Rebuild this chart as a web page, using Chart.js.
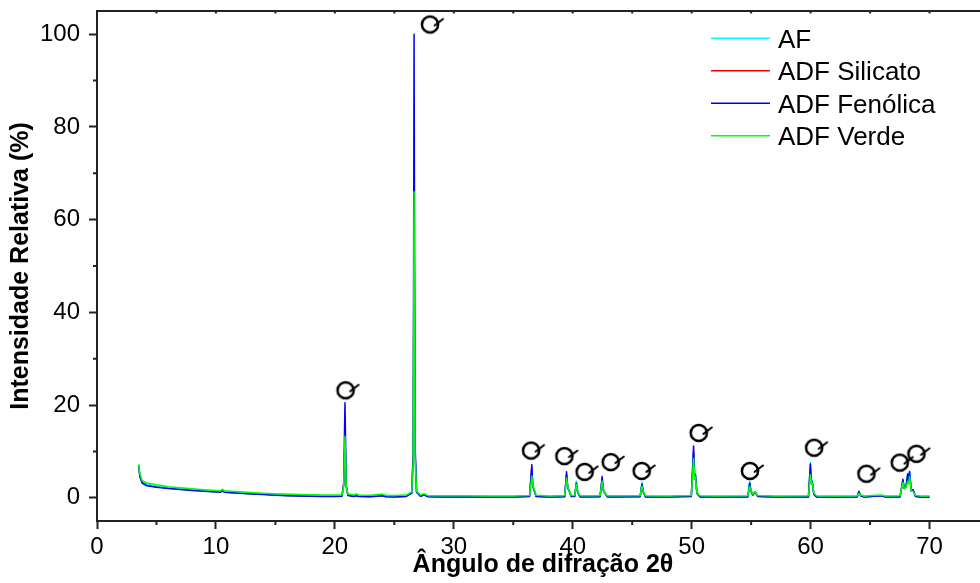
<!DOCTYPE html>
<html>
<head>
<meta charset="utf-8">
<script src="https://cdn.jsdelivr.net/npm/chart.js@4.4.1/dist/chart.umd.min.js"></script>
<style>
html, body { margin: 0; padding: 0; overflow: hidden; background: #ffffff; }
#wrap { position: relative; width: 1000px; height: 583px; }
</style>
</head>
<body>
<div id="wrap"><canvas id="c"></canvas></div>
<script>
// ---------- data ----------
const seriesNames = ['AF', 'ADF Silicato', 'ADF Fenólica', 'ADF Verde'];

const angles = [
  3.5, 3.6, 3.8, 4.2, 5, 6, 7, 8, 9, 10,
  10.4, 10.55, 10.7, 11, 12, 13, 14, 15, 16, 17,
  18, 19, 20, 20.6, 20.74, 20.85, 20.96, 21.1, 21.6, 21.8,
  22, 23, 24, 24.3, 25, 26, 26.46, 26.59, 26.66, 26.74,
  26.87, 27.2, 27.5, 27.8, 29, 31, 33, 35, 36.37, 36.56,
  36.64, 36.74, 36.92, 38, 39.32, 39.48, 39.58, 39.7, 39.87, 40.17,
  40.3, 40.42, 40.62, 42.3, 42.47, 42.58, 42.72, 42.92, 45.67, 45.82,
  45.94, 46.12, 48, 49.97, 50.16, 50.26, 50.32, 50.44, 50.7, 52,
  54.72, 54.88, 54.98, 55.14, 55.35, 55.55, 57, 59.82, 59.98, 60.08,
  60.14, 60.27, 60.5, 62, 63.92, 64.06, 64.22, 64.5, 65.9, 66.3,
  67.52, 67.76, 67.88, 68.02, 68.16, 68.24, 68.32, 68.47, 68.62, 68.82,
  69.3, 70
];

const afValues = [
  7.1, 4.9, 3.5, 2.9, 2.6, 2.2, 2.0, 1.8, 1.6, 1.45,
  1.4, 1.7, 1.35, 1.3, 1.15, 1.0, 0.85, 0.7, 0.6, 0.55,
  0.5, 0.45, 0.45, 0.5, 2.8, 12.5, 2.3, 0.6, 0.5, 0.6,
  0.45, 0.4, 0.6, 0.4, 0.35, 0.45, 1.1, 9, 64, 10,
  1.3, 0.45, 0.7, 0.35, 0.3, 0.3, 0.28, 0.28, 0.4, 6.0,
  2.5, 1.9, 0.4, 0.28, 0.35, 4.6, 2.2, 1.5, 0.4, 0.4,
  3.6, 1.3, 0.3, 0.35, 3.8, 1.6, 0.9, 0.3, 0.35, 3.4,
  1.3, 0.3, 0.28, 0.4, 9.5, 4.0, 4.8, 1.0, 0.3, 0.28,
  0.3, 3.6, 1.5, 0.7, 1.2, 0.4, 0.28, 0.3, 7.6, 3.2,
  3.6, 0.9, 0.3, 0.25, 0.3, 1.3, 0.5, 0.28, 0.5, 0.28,
  0.3, 3.8, 2.0, 2.3, 4.8, 3.4, 5.8, 1.5, 1.6, 0.4,
  0.25, 0.25
];

const silicatoValues = [
  7.0, 4.7, 3.3, 2.7, 2.4, 2.1, 1.9, 1.7, 1.5, 1.35,
  1.3, 1.6, 1.25, 1.2, 1.05, 0.9, 0.75, 0.6, 0.5, 0.45,
  0.4, 0.35, 0.35, 0.4, 2.9, 12.0, 2.4, 0.55, 0.4, 0.5,
  0.35, 0.3, 0.5, 0.3, 0.25, 0.35, 1.0, 9, 60, 10,
  1.2, 0.4, 0.65, 0.3, 0.25, 0.2, 0.2, 0.2, 0.35, 6.5,
  2.5, 1.8, 0.35, 0.2, 0.3, 5.0, 2.2, 1.5, 0.35, 0.35,
  3.0, 1.2, 0.25, 0.3, 4.0, 1.6, 0.9, 0.25, 0.3, 2.8,
  1.2, 0.25, 0.2, 0.35, 10.0, 4.0, 4.8, 1.0, 0.25, 0.2,
  0.25, 3.0, 1.5, 0.6, 1.2, 0.35, 0.2, 0.25, 6.5, 3.0,
  3.4, 0.8, 0.25, 0.15, 0.25, 1.2, 0.45, 0.2, 0.45, 0.2,
  0.25, 3.6, 2.0, 2.3, 4.5, 3.3, 5.0, 1.5, 1.6, 0.35,
  0.15, 0.15
];

const fenolicaValues = [
  7.0, 4.6, 3.2, 2.6, 2.3, 2.0, 1.8, 1.6, 1.4, 1.25,
  1.2, 1.5, 1.2, 1.15, 1.0, 0.85, 0.7, 0.55, 0.45, 0.4,
  0.35, 0.3, 0.3, 0.35, 3.0, 20.5, 2.5, 0.5, 0.3, 0.45,
  0.3, 0.25, 0.45, 0.25, 0.2, 0.3, 1.0, 10, 100, 12,
  1.2, 0.35, 0.6, 0.25, 0.2, 0.15, 0.15, 0.15, 0.3, 7.2,
  2.5, 1.8, 0.3, 0.15, 0.25, 5.6, 2.2, 1.5, 0.3, 0.3,
  3.2, 1.2, 0.2, 0.25, 4.6, 1.6, 0.9, 0.2, 0.25, 3.0,
  1.2, 0.2, 0.15, 0.3, 11.2, 4.0, 5.0, 1.0, 0.2, 0.15,
  0.2, 3.2, 1.5, 0.6, 1.3, 0.3, 0.15, 0.2, 7.3, 3.0,
  3.5, 0.8, 0.2, 0.1, 0.2, 1.4, 0.4, 0.15, 0.45, 0.15,
  0.2, 4.0, 2.0, 2.3, 5.2, 3.5, 5.6, 1.5, 1.8, 0.3,
  0.1, 0.1
];

const verdeValues = [
  7.2, 5.2, 3.7, 3.2, 2.8, 2.4, 2.15, 1.95, 1.75, 1.6,
  1.55, 1.85, 1.5, 1.45, 1.3, 1.15, 1.0, 0.9, 0.8, 0.72,
  0.68, 0.62, 0.6, 0.65, 2.5, 13.3, 2.2, 0.8, 0.65, 0.85,
  0.6, 0.55, 0.8, 0.55, 0.5, 0.6, 1.3, 8, 66, 9,
  1.4, 0.6, 0.9, 0.5, 0.45, 0.42, 0.4, 0.4, 0.5, 4.7,
  2.6, 2.0, 0.55, 0.4, 0.5, 4.3, 2.3, 1.6, 0.5, 0.5,
  2.9, 1.3, 0.45, 0.5, 3.6, 1.7, 1.0, 0.45, 0.5, 2.5,
  1.3, 0.45, 0.4, 0.5, 8.5, 4.0, 4.5, 1.1, 0.45, 0.4,
  0.45, 2.5, 1.6, 0.8, 1.3, 0.5, 0.4, 0.45, 5.0, 3.0,
  3.3, 1.0, 0.45, 0.38, 0.45, 1.0, 0.6, 0.4, 0.6, 0.4,
  0.45, 3.3, 2.0, 2.2, 3.5, 3.0, 4.6, 1.5, 1.4, 0.5,
  0.38, 0.38
];

// quartz peak markers (position of the symbol)
const markerAngles  = [20.9, 28.0, 36.5, 39.3, 41.0, 43.2, 45.8, 50.6, 54.9, 60.3, 64.7, 67.5, 68.9];
const markerHeights = [23.2, 102.1, 10.2, 9.0, 5.6, 7.7, 5.8, 14.0, 5.8, 10.8, 5.2, 7.6, 9.5];

// tick labels
const xTickValues  = [0, 10, 20, 30, 40, 50, 60, 70];
const xMinorValues = [5, 15, 25, 35, 45, 55, 65];
const yTickValues  = [0, 20, 40, 60, 80, 100];
const yMinorValues = [10, 30, 50, 70, 90];

// ---------- styling ----------
const FONT = "'Liberation Sans', Arial, Helvetica, sans-serif";
const AXIS = '#222222';
const seriesColors = ['#00FFFF', '#FF0000', '#0000FF', '#00FF00'];
const seriesValues = [afValues, silicatoValues, fenolicaValues, verdeValues];
const drawOrder = [2, 3, 1, 0]; // lower = drawn on top

function pts(xs, ys) { return xs.map((x, i) => ({ x: x, y: ys[i] })); }

function makeQuartzMark() {
  const c = document.createElement('canvas');
  c.width = 36; c.height = 36;
  const g = c.getContext('2d');
  g.strokeStyle = '#000';
  g.lineWidth = 2.5;
  g.beginPath(); g.arc(18, 18, 8.1, 0, Math.PI * 2); g.stroke();
  g.lineWidth = 2;
  g.lineCap = 'round';
  g.beginPath(); g.moveTo(22.5, 19); g.lineTo(31, 12.5); g.stroke();
  return c;
}

const datasets = seriesNames.map((name, i) => ({
  label: name,
  data: pts(angles, seriesValues[i]),
  borderColor: seriesColors[i],
  backgroundColor: seriesColors[i],
  borderWidth: 1.5,
  borderJoinStyle: 'round',
  pointRadius: 0,
  tension: 0,
  fill: false,
  order: drawOrder[i]
}));
datasets.push({
  label: '',
  data: pts(markerAngles, markerHeights),
  showLine: false,
  pointStyle: makeQuartzMark(),
  pointRadius: 10,
  borderColor: '#000',
  backgroundColor: '#000',
  order: -1,
  clip: false
});

const framePlugin = {
  id: 'frame',
  afterDraw(chart) {
    const { ctx, chartArea: a, scales: { x, y } } = chart;
    ctx.save();
    ctx.strokeStyle = AXIS;
    ctx.lineWidth = 2;
    // top and right border
    ctx.beginPath();
    ctx.moveTo(a.left - 1, a.top);
    ctx.lineTo(a.right, a.top);
    ctx.lineTo(a.right, a.bottom);
    ctx.stroke();
    // minor ticks (outside)
    ctx.beginPath();
    xMinorValues.forEach(v => {
      const px = x.getPixelForValue(v);
      ctx.moveTo(px, a.bottom); ctx.lineTo(px, a.bottom + 4);
    });
    yMinorValues.forEach(v => {
      const py = y.getPixelForValue(v);
      ctx.moveTo(a.left, py); ctx.lineTo(a.left - 4, py);
    });
    // small inward ticks on the top axis
    xTickValues.concat(xMinorValues).forEach(v => {
      const px = x.getPixelForValue(v);
      ctx.moveTo(px, a.top); ctx.lineTo(px, a.top + 2.5);
    });
    ctx.stroke();

    // legend
    const lx0 = 711, lx1 = 770, tx = 778, rowY = [38.3, 70.7, 103.3, 135.7];
    ctx.font = '26px ' + FONT;
    ctx.textAlign = 'left';
    ctx.textBaseline = 'alphabetic';
    seriesNames.forEach((name, i) => {
      ctx.strokeStyle = seriesColors[i];
      ctx.lineWidth = 1.5;
      ctx.beginPath();
      ctx.moveTo(lx0, rowY[i]); ctx.lineTo(lx1, rowY[i]);
      ctx.stroke();
      ctx.fillStyle = '#000';
      ctx.fillText(name, tx, rowY[i] + 9.3);
    });
    ctx.restore();
  }
};

new Chart(document.getElementById('c'), {
  type: 'line',
  data: { datasets: datasets },
  plugins: [framePlugin],
  options: {
    responsive: true,
    maintainAspectRatio: false,
    animation: false,
    layout: { padding: { top: 11, right: 7.5, bottom: 0, left: 0 } },
    plugins: {
      legend: { display: false },
      tooltip: { enabled: false }
    },
    scales: {
      x: {
        type: 'linear',
        min: 0,
        max: 75,
        afterBuildTicks: s => { s.ticks = xTickValues.map(v => ({ value: v })); },
        afterFit: s => { s.height = 62; s.paddingLeft = 0; s.paddingRight = 0; },
        border: { display: true, color: AXIS, width: 2 },
        grid: { display: true, drawOnChartArea: false, drawTicks: true, tickLength: 8, tickWidth: 2, tickColor: AXIS },
        ticks: { color: '#000', font: { family: FONT, size: 24 }, padding: 4, maxRotation: 0, autoSkip: false },
        title: {
          display: true,
          text: 'Ângulo de difração 2θ',
          color: '#000',
          font: { family: FONT, size: 25, weight: 'bold' },
          padding: { top: 0, bottom: 3 }
        }
      },
      y: {
        type: 'linear',
        min: -5,
        max: 105,
        afterBuildTicks: s => { s.ticks = yTickValues.map(v => ({ value: v })); },
        afterFit: s => { s.width = 97; s.paddingTop = 0; s.paddingBottom = 0; },
        border: { display: true, color: AXIS, width: 2 },
        grid: { display: true, drawOnChartArea: false, drawTicks: true, tickLength: 8, tickWidth: 2, tickColor: AXIS },
        ticks: { color: '#000', font: { family: FONT, size: 24 }, padding: 9 },
        title: {
          display: true,
          text: 'Intensidade Relativa (%)',
          color: '#000',
          font: { family: FONT, size: 25, weight: 'bold' },
          padding: { top: 6, bottom: 0 }
        }
      }
    }
  }
});
</script>
</body>
</html>
